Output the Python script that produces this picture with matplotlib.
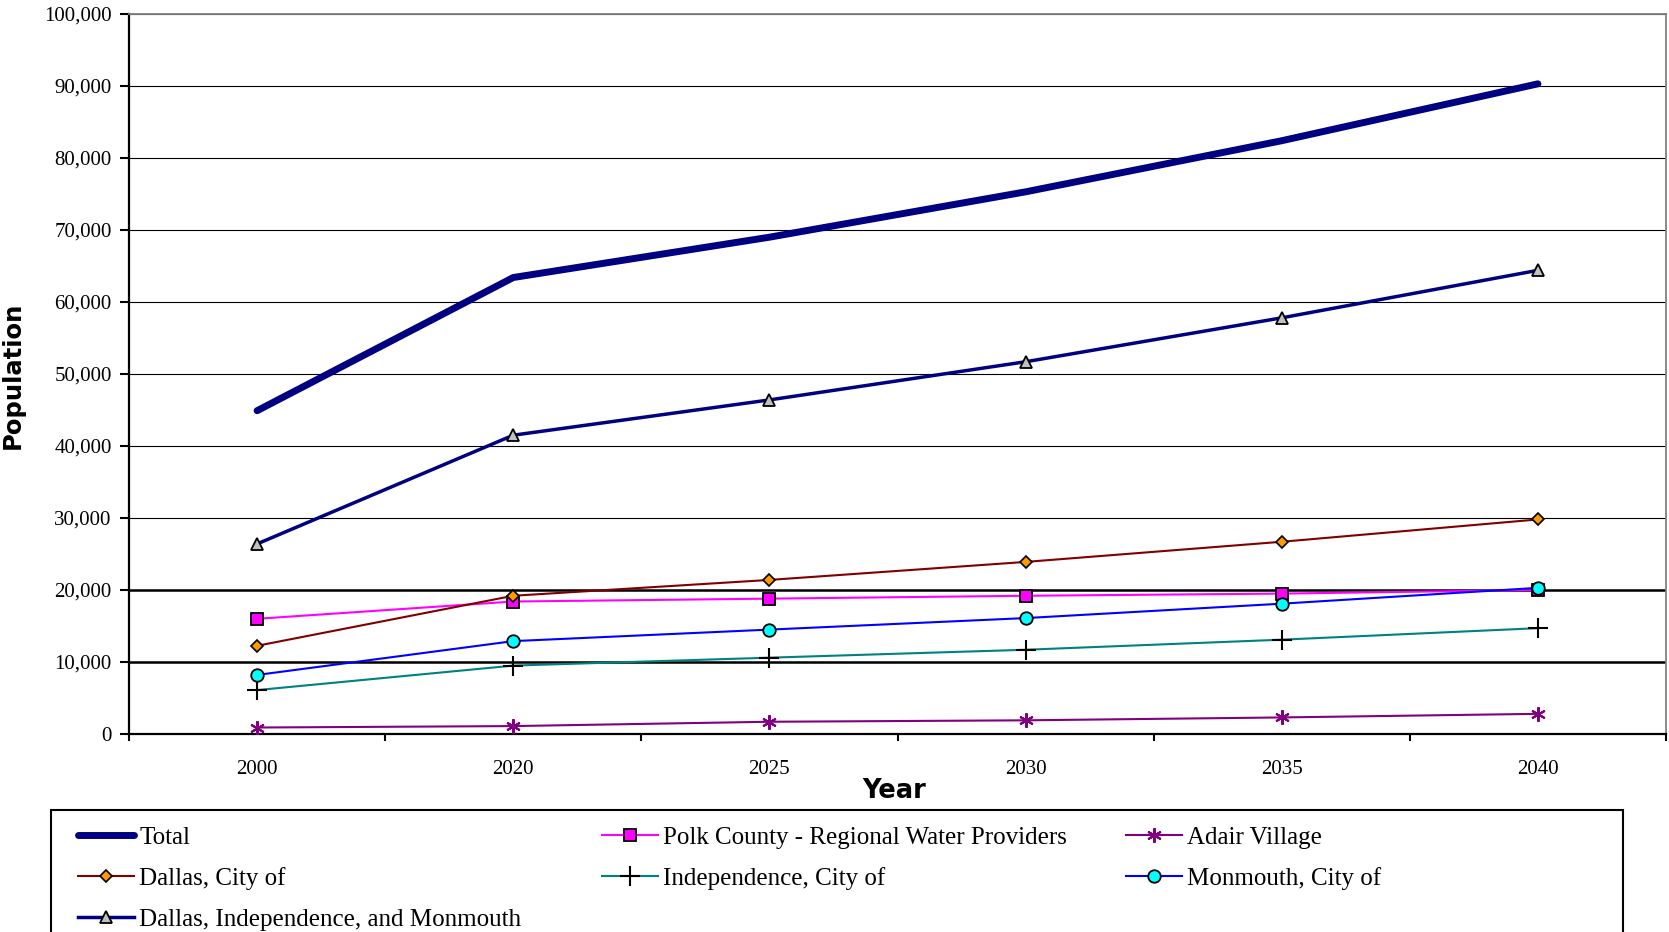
import matplotlib
matplotlib.use("Agg")
import matplotlib.pyplot as plt
from matplotlib.ticker import FuncFormatter, FixedLocator
from matplotlib.patches import Rectangle
import numpy as np

years = ["2000", "2020", "2025", "2030", "2035", "2040"]
total = [44900, 63400, 69000, 75300, 82400, 90300]
polk = [16000, 18400, 18800, 19200, 19500, 20000]
adair = [900, 1100, 1700, 1900, 2300, 2800]
dallas = [12250, 19200, 21400, 23900, 26700, 29800]
independence = [6100, 9500, 10600, 11700, 13100, 14700]
monmouth = [8200, 12900, 14500, 16100, 18100, 20300]
dim = [26400, 41500, 46400, 51700, 57800, 64400]

W, H = 1669, 932
fig = plt.figure(figsize=(W / 100, H / 100), dpi=100)
ax = fig.add_axes([129 / W, 1 - 734 / H, (1666 - 129) / W, (734 - 14) / H])

serif = "Liberation Serif"
x = np.arange(len(years))

# gridlines
ax.set_axisbelow(True)
ax.yaxis.grid(True, color="black", lw=0.8)
for v in (10000, 20000):
    ax.axhline(v, color="black", lw=1.8, zorder=0.6)

l_total, = ax.plot(x, total, color="#000080", lw=5, solid_capstyle="round",
                   label="Total", zorder=3)
l_polk, = ax.plot(x, polk, color="#FF00FF", lw=1.5, marker="s", ms=9,
                  mfc="#FF00FF", mec="black", mew=1.3,
                  label="Polk County - Regional Water Providers", zorder=3)
l_adair, = ax.plot(x, adair, color="#800080", lw=1.5, marker=(6, 2, 0), ms=10.5,
                   mec="#800080", mew=1.5, label="Adair Village", zorder=3)
l_dallas, = ax.plot(x, dallas, color="#800000", lw=1.5, marker="D", ms=6.3,
                    mfc="#FF9900", mec="black", mew=1.2,
                    label="Dallas, City of", zorder=3)
l_indep, = ax.plot(x, independence, color="#008080", lw=1.5, marker="+", ms=14,
                   mec="black", mew=1.5, label="Independence, City of", zorder=3)
l_mon, = ax.plot(x, monmouth, color="#0000FF", lw=1.5, marker="o", ms=9,
                 mfc="#00FFFF", mec="black", mew=1.3,
                 label="Monmouth, City of", zorder=3)
l_dim, = ax.plot(x, dim, color="#000080", lw=2.5, marker="^", ms=9,
                 mfc="#C0C0C0", mec="black", mew=1.3,
                 label="Dallas, Independence, and Monmouth", zorder=3)

ax.set_xlim(-0.5, len(years) - 0.5)
ax.set_ylim(0, 100000)
ax.set_yticks(np.arange(0, 100001, 10000))
ax.yaxis.set_major_formatter(FuncFormatter(lambda v, p: f"{v:,.0f}"))
ax.set_xticks(x)
ax.set_xticklabels(years)
ax.xaxis.set_minor_locator(FixedLocator(np.arange(-0.5, len(years), 1.0)))

ax.tick_params(axis="y", direction="out", length=6.5, width=1.5, pad=6,
               labelsize=15, colors="black")
ax.tick_params(axis="x", which="major", length=0, pad=18.5, labelsize=15)
ax.tick_params(axis="x", which="minor", direction="out", length=5, width=1.5)
for lab in ax.get_xticklabels() + ax.get_yticklabels():
    lab.set_fontfamily(serif)

for s in ("left", "bottom"):
    ax.spines[s].set_color("black")
    ax.spines[s].set_linewidth(1.6)
for s in ("top", "right"):
    ax.spines[s].set_color("#808080")
    ax.spines[s].set_linewidth(1.3)

ax.set_xlabel("Year", fontsize=18.5, fontweight="bold", family="DejaVu Sans",
              va="center")
ax.xaxis.set_label_coords((894 - 129) / 1537, (734 - 791) / 720)
ax.set_ylabel("Population", fontsize=17.5, fontweight="bold", family="DejaVu Sans",
              va="center")
ax.yaxis.set_label_coords((13 - 129) / 1537, (734 - 375) / 720)

# legend: three columns inside one frame
fig.add_artist(Rectangle((51 / W, -0.1), (1623 - 51) / W, (932 - 810) / H + 0.1,
                         transform=fig.transFigure, fill=False,
                         ec="black", lw=1.5))
columns = [
    ([l_total, l_dallas, l_dim], 78),
    ([l_polk, l_indep], 602),
    ([l_adair, l_mon], 1126),
]
for handles, xpix in columns:
    fig.legend(handles=handles, loc="upper left",
               bbox_to_anchor=(xpix / W, 1 - 826.5 / H),
               bbox_transform=fig.transFigure, frameon=False,
               borderpad=0, borderaxespad=0, handlelength=2.24,
               handletextpad=0.2, labelspacing=0.73,
               prop={"family": serif, "size": 18})

fig.savefig("out.png", dpi=100)
